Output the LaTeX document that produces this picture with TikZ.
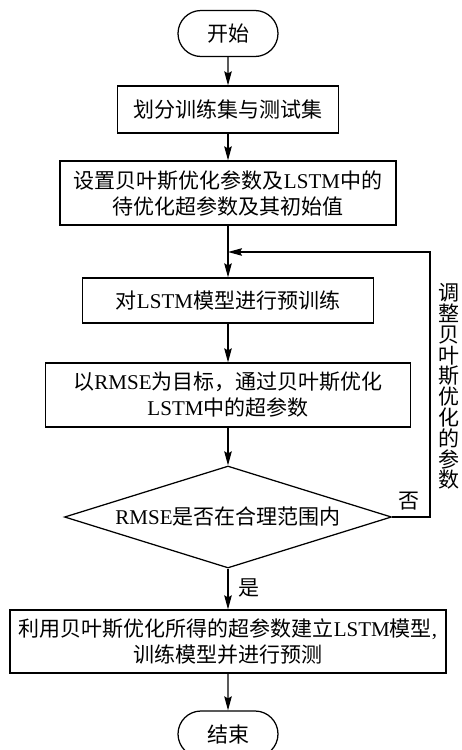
\documentclass[tikz,border=0pt]{standalone}
\usepackage{fontspec}
\setmainfont{Liberation Serif}
\newfontfamily\cjk{Noto Sans CJK SC}
\usetikzlibrary{shapes.misc,shapes.geometric,arrows.meta}
\newcommand\lat[1]{{\rmfamily #1}}
\begin{document}
\begin{tikzpicture}[x=1pt,y=-1pt,line width=1.25pt,
  txt/.style={font=\cjk\fontsize{21}{26}\selectfont},
  box/.style={txt,draw,rectangle,inner sep=0pt,align=center},
  term/.style={txt,draw,rounded rectangle,minimum width=100pt,minimum height=46pt,inner sep=0pt},
  arr/.style={-{Stealth[length=14pt,width=7.5pt,inset=2pt]}}]
\useasboundingbox (0,0) rectangle (461,750);
\node[term] (start) at (228,33.5) {开始};
\node[box,minimum width=221pt,minimum height=47pt] (b1) at (228,109.5) {划分训练集与测试集};
\node[box,minimum width=336pt,minimum height=64pt] (b2) at (228,193) {设置贝叶斯优化参数及\lat{LSTM}中的\\待优化超参数及其初始值};
\coordinate (loop) at (228,252);
\node[box,minimum width=291pt,minimum height=45pt] (b3) at (228,300.5) {对\lat{LSTM}模型进行预训练};
\node[box,minimum width=365pt,minimum height=64pt] (b4) at (228,395) {以\lat{RMSE}为目标，通过贝叶斯优化\\\lat{LSTM}中的超参数};
\node[txt,draw,diamond,aspect=3.2,inner sep=0pt,minimum width=327pt,minimum height=102pt] (d) at (228,517) {\lat{RMSE}是否在合理范围内};
\node[box,minimum width=436pt,minimum height=63pt] (b5) at (228,641.5) {利用贝叶斯优化所得的超参数建立\lat{LSTM}模型\lat{,}\\训练模型并进行预测};
\node[term] (end) at (228,734) {结束};
\coordinate (rtop) at (430,252);
\node[txt] (no) at (409,501) {否};
\node[txt] (yes) at (249,588) {是};
\node[txt,font=\cjk\fontsize{21}{20.8}\selectfont,align=center,inner sep=0pt] (adj) at (449,386.5) {调\\整\\贝\\叶\\斯\\优\\化\\的\\参\\数};
\draw[arr] (start) -- (b1);
\draw[arr] (b1) -- (b2);
\draw[arr] (b2) -- (b3);
\draw[arr] (b3) -- (b4);
\draw[arr] (b4) -- (d);
\draw[arr] (d) -- (b5);
\draw[arr] (b5) -- (end);
\draw[arr] (d.east) -| (rtop) -- (loop);
\end{tikzpicture}
\end{document}
